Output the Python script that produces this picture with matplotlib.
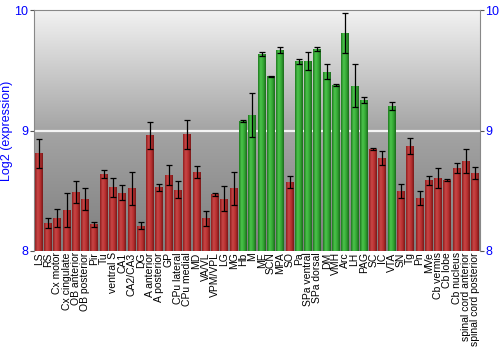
import matplotlib
matplotlib.use("Agg")
import matplotlib.pyplot as plt
import numpy as np

plt.rcParams["font.family"] = ["Liberation Sans", "DejaVu Sans"]

regions = ["LS", "RS", "Cx motor", "Cx cingulate", "OB anterior", "OB posterior",
           "Pir", "Tu", "ventral S", "CA1", "CA2/CA3", "DG", "A anterior",
           "A posterior", "GP", "CPu lateral", "CPu medial", "MD", "VA/VL",
           "VPM/VPL", "LG", "MG", "Hb", "M", "ME", "SCN", "MPA", "SO", "Pa",
           "SPa ventral", "SPa dorsal", "DM", "VMH", "Arc", "LH", "PAG", "SC",
           "IC", "VTA", "SN", "Tg", "Pn", "MVe", "Cb vermis", "Cb lobe",
           "Cb nucleus", "spinal cord anterior", "spinal cord posterior"]
expr = [8.81, 8.23, 8.27, 8.34, 8.49, 8.43, 8.22, 8.64, 8.53, 8.485, 8.52, 8.21,
        8.96, 8.53, 8.63, 8.51, 8.97, 8.655, 8.27, 8.47, 8.435, 8.52, 9.08, 9.13,
        9.634, 9.45, 9.67, 8.575, 9.576, 9.576, 9.676, 9.49, 9.377, 9.81, 9.374,
        9.25, 8.845, 8.77, 9.205, 8.50, 8.87, 8.44, 8.587, 8.607, 8.59, 8.687,
        8.75, 8.65]
err = [0.12, 0.04, 0.075, 0.14, 0.09, 0.09, 0.02, 0.035, 0.08, 0.06, 0.135, 0.03,
       0.11, 0.03, 0.085, 0.07, 0.12, 0.05, 0.065, 0.015, 0.105, 0.135, 0.005, 0.18,
       0.015, 0.005, 0.025, 0.05, 0.02, 0.075, 0.015, 0.065, 0.01, 0.17, 0.18,
       0.025, 0.01, 0.06, 0.035, 0.06, 0.065, 0.06, 0.036, 0.085, 0.01, 0.04,
       0.1, 0.05]
high = ["Hb", "M", "ME", "SCN", "MPA", "Pa", "SPa ventral", "SPa dorsal", "DM",
        "VMH", "Arc", "LH", "PAG", "VTA"]

fig = plt.figure(figsize=(5, 3.5), dpi=100)
ax = fig.add_axes([0.068, 0.283, 0.892, 0.688])
n = len(regions)

# grey vertical gradient behind the bars
grad = np.linspace(0, 1, 256).reshape(-1, 1)
ax.imshow(grad, cmap=matplotlib.colors.LinearSegmentedColormap.from_list(
    "bg", ["#7e7e7e", "#a4a4a4", "#f2f2f2"]), aspect="auto",
    extent=[-0.5, n - 0.5, 8, 10], origin="lower", zorder=0)
ax.axhline(9, color="#f4f4f4", lw=1.6, zorder=1)

red = matplotlib.colors.LinearSegmentedColormap.from_list(
    "r", ["#8e1e1e", "#c94646", "#b83030", "#7a1818"])
green = matplotlib.colors.LinearSegmentedColormap.from_list(
    "g", ["#1f7a1f", "#4cc44c", "#34a834", "#1c6a1c"])
shade = np.linspace(0, 1, 64).reshape(1, -1)

x = np.arange(n)
w = 0.86
for i, (name, v) in enumerate(zip(regions, expr)):
    cm = green if name in high else red
    bar = ax.bar(i, v - 8, bottom=8, width=w, color="none", zorder=2)[0]
    im = ax.imshow(shade, cmap=cm, aspect="auto",
                   extent=[i - w / 2, i + w / 2, 8, v], zorder=2)
    im.set_clip_path(bar)
ax.set_xlim(-0.5, n - 0.5)
ax.set_ylim(8, 10)

ax.errorbar(x, expr, yerr=err, fmt="none", ecolor="black", elinewidth=0.9,
            capsize=2, capthick=0.9, zorder=3)

ax.set_xticks(x)
ax.set_xticklabels(regions, rotation=90, fontsize=7.5)
ax.tick_params(axis="x", length=0, pad=1)
ax.set_yticks([8, 9, 10])
ax.tick_params(axis="y", labelcolor="blue", labelsize=9, color="#555555",
               length=3, pad=1, left=True, right=True, labelleft=True,
               labelright=True)
ax.set_ylabel("Log2 (expression)", color="blue", fontsize=9, labelpad=1)
for s in ax.spines.values():
    s.set_color("#888888")
ax.spines["bottom"].set_visible(False)

fig.savefig("out.png", dpi=100)
